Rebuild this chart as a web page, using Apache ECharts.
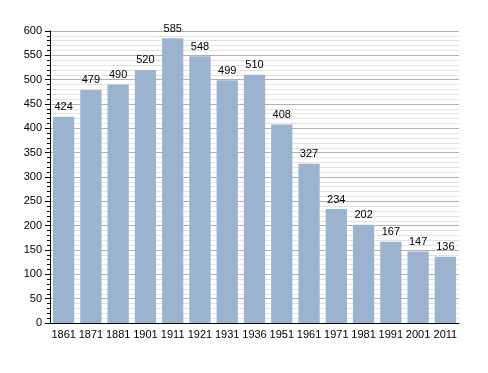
<!DOCTYPE html>
<html><head><meta charset="utf-8">
<script src="https://cdn.jsdelivr.net/npm/echarts@6/dist/echarts.min.js"></script>
<style>html,body{margin:0;padding:0;background:#fff}#c{width:488px;height:373px}</style>
</head><body><div id="c"></div>
<script>
var categories = ['1861','1871','1881','1901','1911','1921','1931','1936','1951','1961','1971','1981','1991','2001','2011'];
var population = [424,479,490,520,585,548,499,510,408,327,234,202,167,147,136];
var chart = echarts.init(document.getElementById('c'), null, {renderer:'canvas'});
chart.setOption({
  animation:false,
  grid:{left:50,right:29,top:31,bottom:50,containLabel:false},
  xAxis:{type:'category',data:categories,
    axisLine:{lineStyle:{color:'#000',width:1}},
    axisTick:{show:false},
    axisLabel:{color:'#000',fontFamily:'Liberation Sans, Arial, sans-serif',fontSize:11,margin:6,interval:0}},
  yAxis:{type:'value',min:0,max:600,interval:50,
    axisLine:{show:true,lineStyle:{color:'#000',width:1}},
    axisTick:{show:true,length:5,lineStyle:{color:'#000'}},
    minorTick:{show:true,splitNumber:5,length:3,lineStyle:{color:'#000'}},
    splitLine:{lineStyle:{color:'#b0b0b0',width:1}},
    minorSplitLine:{show:true,lineStyle:{color:'#e2e2e2',width:1}},
    axisLabel:{color:'#000',fontFamily:'Liberation Sans, Arial, sans-serif',fontSize:11,margin:8}},
  series:[{type:'bar',data:population,barCategoryGap:'22%',
    itemStyle:{color:'#9bb3cf'},
    label:{show:true,position:'top',color:'#000',fontFamily:'Liberation Sans, Arial, sans-serif',fontSize:11,distance:4}}]
});
</script></body></html>
